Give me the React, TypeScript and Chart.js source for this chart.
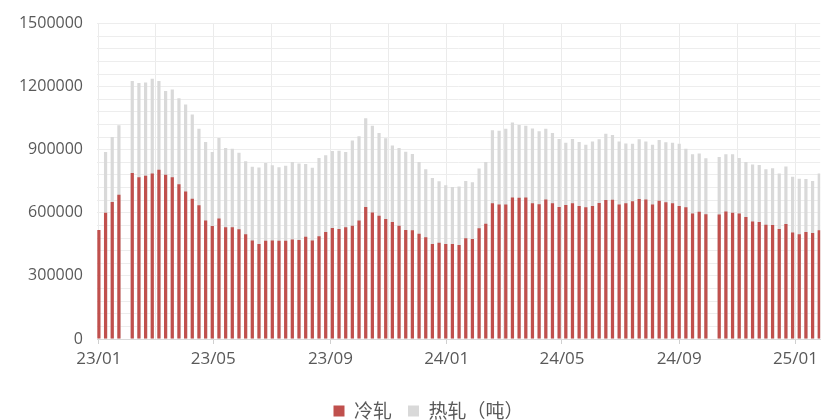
import React, { useEffect, useRef } from "react";
import { Chart, registerables } from "chart.js";

Chart.register(...registerables);

// Weekly series, first week starting 2023-01-01
const startDate = "2023-01-01";

const coldRolled: (number | null)[] = [
  518750, 600000, 651600, 686000, null, 789000, 768750, 776600, 787500, 804700,
  781250, 768750, 736000, 701600, 667200, 636000, 564000, 537500, 573400, 531250,
  531250, 521900, 498400, 468750, 451600, 467200, 468750, 467200, 467200, 473400,
  470300, 485900, 468750, 489000, 509400, 528100, 523400, 531250, 539000, 564000,
  628100, 601600, 586000, 570300, 556250, 539000, 518750, 517200, 500000, 484400,
  451600, 457800, 451600, 451600, 446900, 479700, 475000, 526600, 548400, 645300,
  639100, 639100, 673400, 671900, 673400, 645300, 640600, 664000, 645300, 628100,
  637500, 645300, 632800, 626600, 632800, 646900, 660900, 662500, 639100, 645300,
  654700, 665600, 664000, 639100, 657800, 650000, 645300, 632800, 626600, 596900,
  604700, 593750, null, 592200, 606250, 600000, 596900, 579700, 559400, 556250,
  543750, 542200, 523400, 546900, 506250, 498400, 509400, 504700, 517200,
];

const hotRolled: (number | null)[] = [
  null, 889000, 961000, 1017000, null, 1226600, 1217000, 1220000, 1237500, 1226600,
  1179700, 1186000, 1145300, 1115600, 1067200, 1000000, 937500, 889000, 956250, 907800,
  904700, 886000, 845300, 818750, 815600, 837500, 826600, 817200, 823400, 842200,
  834400, 832800, 814000, 861000, 873400, 893750, 895300, 889000, 943750, 964000,
  1050000, 1014000, 979700, 954700, 920300, 907800, 890600, 879700, 842200, 807800,
  765600, 750000, 731250, 723400, 725000, 751600, 745300, 811000, 842200, 992200,
  990600, 1000000, 1029700, 1017200, 1014000, 1001600, 987500, 1000000, 979700, 951600,
  932800, 951600, 937500, 923400, 939100, 950000, 976600, 970300, 939100, 929700,
  928100, 950000, 939100, 923400, 946900, 935900, 932800, 928100, 904700, 878100,
  882800, 859400, null, 865600, 878100, 878100, 860900, 842200, 829700, 828100,
  807800, 812500, 787500, 820300, 771900, 762500, 760900, 751600, 787500,
];

const seriesNames = ["冷轧", "热轧（吨）"];

// vertical gridlines every two months, labels every four months
const gridMonths = [
  "2023-01", "2023-03", "2023-05", "2023-07", "2023-09", "2023-11",
  "2024-01", "2024-03", "2024-05", "2024-07", "2024-09", "2024-11", "2025-01",
];
const labelMonths = ["2023-01", "2023-05", "2023-09", "2024-01", "2024-05", "2024-09", "2025-01"];
const xLabels = ["23/01", "23/05", "23/09", "24/01", "24/05", "24/09", "25/01"];

const yMax = 1500000;
const yMinorStep = 60000;
const yMajorStep = 300000;

const DAY = 86400000;
const dayOf = (s: string) => {
  const [y, m, d] = s.split("-").map(Number);
  return (Date.UTC(y, m - 1, d || 1) - Date.UTC(2023, 0, 1)) / DAY;
};

// nudges the centred legend row to the right, as in the reference
const legendShift = {
  id: "legendShift",
  afterLayout(chart: any) {
    const lg = chart.legend;
    if (lg) {
      lg.left += 17;
      lg.right += 17;
    }
  },
};

export default function App() {
  const ref = useRef<HTMLCanvasElement | null>(null);

  useEffect(() => {
    if (!ref.current) return;
    const base = dayOf(startDate);
    const toPts = (arr: (number | null)[]) =>
      arr.map((v, i) => ({ x: base + i * 7, y: v }));
    const gridDays = gridMonths.map((m) => dayOf(m));
    const labelDays = labelMonths.map((m) => dayOf(m));
    const labelFor = (v: number) => {
      const k = labelDays.indexOf(v);
      return k >= 0 ? xLabels[k] : "";
    };
    const yTicks: number[] = [];
    for (let v = 0; v <= yMax; v += yMinorStep) yTicks.push(v);

    const textColor = "#595959";

    const chart = new Chart(ref.current, {
      type: "bar",
      data: {
        datasets: [
          {
            label: seriesNames[0],
            data: toPts(coldRolled) as any,
            backgroundColor: "#C0504D",
            borderWidth: 0,
            inflateAmount: 0,
            barThickness: 3.2,
            grouped: false,
          } as any,
          {
            label: seriesNames[1],
            data: toPts(hotRolled) as any,
            backgroundColor: "#D9D9D9",
            borderWidth: 0,
            inflateAmount: 0,
            barThickness: 3.2,
            grouped: false,
          } as any,
        ],
      },
      plugins: [legendShift],
      options: {
        responsive: false,
        animation: false,
        layout: { padding: { top: 19, left: 0, right: 0, bottom: -10.5 } },
        plugins: {
          tooltip: { enabled: false },
          legend: {
            position: "bottom",
            labels: {
              boxWidth: 11,
              boxHeight: 11,
              padding: 16,
              color: textColor,
              font: { family: "'Noto Sans CJK SC', sans-serif", size: 19 },
            },
          },
        },
        scales: {
          x: {
            type: "linear",
            min: -2,
            max: 757,
            offset: false,
            afterBuildTicks: (scale: any) => {
              scale.ticks = gridDays.map((v) => ({ value: v }));
            },
            afterFit: (scale: any) => {
              scale.height = 46.5;
            },
            ticks: {
              autoSkip: false,
              maxRotation: 0,
              padding: 5,
              color: textColor,
              font: { family: "'Open Sans', sans-serif", size: 17 },
              callback: (v: any) => labelFor(Number(v)),
            },
            grid: {
              offset: false,
              color: "#EBEBEB",
              tickLength: 5,
              tickColor: (ctx: any) =>
                ctx.tick && labelDays.indexOf(ctx.tick.value) >= 0 ? "#D0D0D0" : "rgba(0,0,0,0)",
            },
            border: { color: "#D9D9D9" },
          },
          y: {
            type: "linear",
            min: 0,
            max: yMax,
            afterBuildTicks: (scale: any) => {
              scale.ticks = yTicks.map((v) => ({ value: v }));
            },
            afterFit: (scale: any) => {
              scale.width = 97;
            },
            ticks: {
              autoSkip: false,
              padding: 14,
              color: textColor,
              font: { family: "'Open Sans', sans-serif", size: 16 },
              callback: (v: any) => (Number(v) % yMajorStep === 0 ? String(v) : ""),
            },
            grid: { color: "#EDEDED", drawTicks: false },
            border: { display: false },
          },
        },
      } as any,
    });
    return () => chart.destroy();
  }, []);

  return (
    <div style={{ position: "absolute", left: 0, top: 0, width: 823, height: 420, background: "#fff" }}>
      <canvas ref={ref} width={823} height={420} style={{ display: "block" }} />
    </div>
  );
}
